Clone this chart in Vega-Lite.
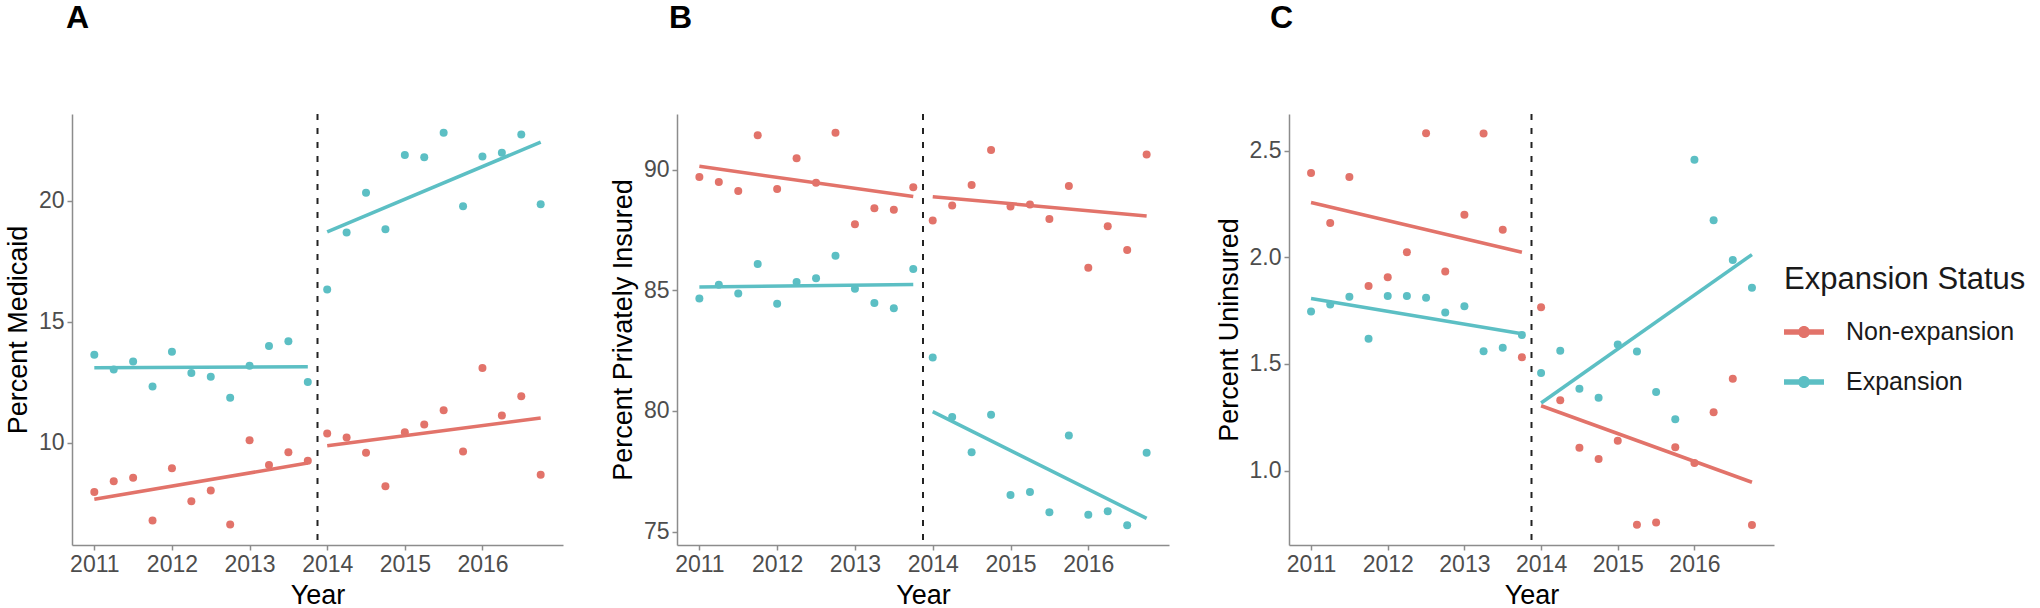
{
  "$schema": "https://vega.github.io/schema/vega-lite/v6.json",
  "padding": {"left": 4, "top": 2, "right": 0, "bottom": 0},
  "background": "white",
  "config": {
    "view": {"stroke": null},
    "font": "Liberation Sans",
    "axis": {
      "grid": false,
      "domainColor": "#8c8c8c",
      "domainWidth": 1.5,
      "tickColor": "#8c8c8c",
      "tickWidth": 1.5,
      "tickSize": 5,
      "labelFont": "Liberation Sans",
      "labelFontSize": 23,
      "labelColor": "#4d4d4d",
      "labelPadding": 3,
      "titleFont": "Liberation Sans",
      "titleFontSize": 27,
      "titleFontWeight": "normal",
      "titleColor": "#000000",
      "titlePadding": 6
    },
    "title": {
      "font": "Liberation Sans",
      "fontSize": 32,
      "fontWeight": "bold",
      "color": "#000000",
      "anchor": "start",
      "frame": "group",
      "offset": 78
    },
    "legend": {
      "titleFont": "Liberation Sans",
      "titleFontSize": 31,
      "titleFontWeight": "normal",
      "titleColor": "#1a1a1a",
      "titleLimit": 0,
      "labelFont": "Liberation Sans",
      "labelFontSize": 25,
      "labelColor": "#1a1a1a",
      "labelLimit": 0,
      "labelOffset": 22,
      "symbolType": "M-1,-0.14L1,-0.14L1,0.14L-1,0.14Z M-0.3,0A0.3,0.3,0,1,1,0.3,0A0.3,0.3,0,1,1,-0.3,0Z",
      "symbolSize": 1600,
      "symbolStrokeWidth": 0,
      "rowPadding": 17,
      "titlePadding": 16
    }
  },
  "datasets": {
    "medicaid": [
      {"year": 2011, "status": "Expansion", "period": "pre", "value": 13.63},
      {"year": 2011.25, "status": "Expansion", "period": "pre", "value": 13.02},
      {"year": 2011.5, "status": "Expansion", "period": "pre", "value": 13.36},
      {"year": 2011.75, "status": "Expansion", "period": "pre", "value": 12.32},
      {"year": 2012, "status": "Expansion", "period": "pre", "value": 13.76},
      {"year": 2012.25, "status": "Expansion", "period": "pre", "value": 12.88},
      {"year": 2012.5, "status": "Expansion", "period": "pre", "value": 12.72},
      {"year": 2012.75, "status": "Expansion", "period": "pre", "value": 11.86},
      {"year": 2013, "status": "Expansion", "period": "pre", "value": 13.18},
      {"year": 2013.25, "status": "Expansion", "period": "pre", "value": 14.0},
      {"year": 2013.5, "status": "Expansion", "period": "pre", "value": 14.19},
      {"year": 2013.75, "status": "Expansion", "period": "pre", "value": 12.51},
      {"year": 2014, "status": "Expansion", "period": "post", "value": 16.34},
      {"year": 2014.25, "status": "Expansion", "period": "post", "value": 18.70},
      {"year": 2014.5, "status": "Expansion", "period": "post", "value": 20.34},
      {"year": 2014.75, "status": "Expansion", "period": "post", "value": 18.83},
      {"year": 2015, "status": "Expansion", "period": "post", "value": 21.90},
      {"year": 2015.25, "status": "Expansion", "period": "post", "value": 21.81},
      {"year": 2015.5, "status": "Expansion", "period": "post", "value": 22.82},
      {"year": 2015.75, "status": "Expansion", "period": "post", "value": 19.78},
      {"year": 2016, "status": "Expansion", "period": "post", "value": 21.84},
      {"year": 2016.25, "status": "Expansion", "period": "post", "value": 22.0},
      {"year": 2016.5, "status": "Expansion", "period": "post", "value": 22.75},
      {"year": 2016.75, "status": "Expansion", "period": "post", "value": 19.86},
      {"year": 2011, "status": "Non-expansion", "period": "pre", "value": 7.95},
      {"year": 2011.25, "status": "Non-expansion", "period": "pre", "value": 8.40},
      {"year": 2011.5, "status": "Non-expansion", "period": "pre", "value": 8.54},
      {"year": 2011.75, "status": "Non-expansion", "period": "pre", "value": 6.77},
      {"year": 2012, "status": "Non-expansion", "period": "pre", "value": 8.94},
      {"year": 2012.25, "status": "Non-expansion", "period": "pre", "value": 7.57},
      {"year": 2012.5, "status": "Non-expansion", "period": "pre", "value": 8.02},
      {"year": 2012.75, "status": "Non-expansion", "period": "pre", "value": 6.61},
      {"year": 2013, "status": "Non-expansion", "period": "pre", "value": 10.10},
      {"year": 2013.25, "status": "Non-expansion", "period": "pre", "value": 9.07},
      {"year": 2013.5, "status": "Non-expansion", "period": "pre", "value": 9.60},
      {"year": 2013.75, "status": "Non-expansion", "period": "pre", "value": 9.25},
      {"year": 2014, "status": "Non-expansion", "period": "post", "value": 10.38},
      {"year": 2014.25, "status": "Non-expansion", "period": "post", "value": 10.21},
      {"year": 2014.5, "status": "Non-expansion", "period": "post", "value": 9.58},
      {"year": 2014.75, "status": "Non-expansion", "period": "post", "value": 8.19},
      {"year": 2015, "status": "Non-expansion", "period": "post", "value": 10.43},
      {"year": 2015.25, "status": "Non-expansion", "period": "post", "value": 10.75},
      {"year": 2015.5, "status": "Non-expansion", "period": "post", "value": 11.34},
      {"year": 2015.75, "status": "Non-expansion", "period": "post", "value": 9.63},
      {"year": 2016, "status": "Non-expansion", "period": "post", "value": 13.09},
      {"year": 2016.25, "status": "Non-expansion", "period": "post", "value": 11.12},
      {"year": 2016.5, "status": "Non-expansion", "period": "post", "value": 11.92},
      {"year": 2016.75, "status": "Non-expansion", "period": "post", "value": 8.67}
    ],
    "private": [
      {"year": 2011, "status": "Non-expansion", "period": "pre", "value": 89.71},
      {"year": 2011.25, "status": "Non-expansion", "period": "pre", "value": 89.50},
      {"year": 2011.5, "status": "Non-expansion", "period": "pre", "value": 89.13},
      {"year": 2011.75, "status": "Non-expansion", "period": "pre", "value": 91.44},
      {"year": 2012, "status": "Non-expansion", "period": "pre", "value": 89.21},
      {"year": 2012.25, "status": "Non-expansion", "period": "pre", "value": 90.48},
      {"year": 2012.5, "status": "Non-expansion", "period": "pre", "value": 89.47},
      {"year": 2012.75, "status": "Non-expansion", "period": "pre", "value": 91.54},
      {"year": 2013, "status": "Non-expansion", "period": "pre", "value": 87.75},
      {"year": 2013.25, "status": "Non-expansion", "period": "pre", "value": 88.41},
      {"year": 2013.5, "status": "Non-expansion", "period": "pre", "value": 88.35},
      {"year": 2013.75, "status": "Non-expansion", "period": "pre", "value": 89.28},
      {"year": 2014, "status": "Non-expansion", "period": "post", "value": 87.90},
      {"year": 2014.25, "status": "Non-expansion", "period": "post", "value": 88.52},
      {"year": 2014.5, "status": "Non-expansion", "period": "post", "value": 89.37},
      {"year": 2014.75, "status": "Non-expansion", "period": "post", "value": 90.83},
      {"year": 2015, "status": "Non-expansion", "period": "post", "value": 88.48},
      {"year": 2015.25, "status": "Non-expansion", "period": "post", "value": 88.57},
      {"year": 2015.5, "status": "Non-expansion", "period": "post", "value": 87.96},
      {"year": 2015.75, "status": "Non-expansion", "period": "post", "value": 89.33},
      {"year": 2016, "status": "Non-expansion", "period": "post", "value": 85.94},
      {"year": 2016.25, "status": "Non-expansion", "period": "post", "value": 87.66},
      {"year": 2016.5, "status": "Non-expansion", "period": "post", "value": 86.68},
      {"year": 2016.75, "status": "Non-expansion", "period": "post", "value": 90.64},
      {"year": 2011, "status": "Expansion", "period": "pre", "value": 84.67},
      {"year": 2011.25, "status": "Expansion", "period": "pre", "value": 85.24},
      {"year": 2011.5, "status": "Expansion", "period": "pre", "value": 84.87},
      {"year": 2011.75, "status": "Expansion", "period": "pre", "value": 86.10},
      {"year": 2012, "status": "Expansion", "period": "pre", "value": 84.45},
      {"year": 2012.25, "status": "Expansion", "period": "pre", "value": 85.35},
      {"year": 2012.5, "status": "Expansion", "period": "pre", "value": 85.51},
      {"year": 2012.75, "status": "Expansion", "period": "pre", "value": 86.44},
      {"year": 2013, "status": "Expansion", "period": "pre", "value": 85.07},
      {"year": 2013.25, "status": "Expansion", "period": "pre", "value": 84.48},
      {"year": 2013.5, "status": "Expansion", "period": "pre", "value": 84.26},
      {"year": 2013.75, "status": "Expansion", "period": "pre", "value": 85.89},
      {"year": 2014, "status": "Expansion", "period": "post", "value": 82.22},
      {"year": 2014.25, "status": "Expansion", "period": "post", "value": 79.75},
      {"year": 2014.5, "status": "Expansion", "period": "post", "value": 78.29},
      {"year": 2014.75, "status": "Expansion", "period": "post", "value": 79.84},
      {"year": 2015, "status": "Expansion", "period": "post", "value": 76.51},
      {"year": 2015.25, "status": "Expansion", "period": "post", "value": 76.64},
      {"year": 2015.5, "status": "Expansion", "period": "post", "value": 75.80},
      {"year": 2015.75, "status": "Expansion", "period": "post", "value": 78.98},
      {"year": 2016, "status": "Expansion", "period": "post", "value": 75.69},
      {"year": 2016.25, "status": "Expansion", "period": "post", "value": 75.84},
      {"year": 2016.5, "status": "Expansion", "period": "post", "value": 75.26},
      {"year": 2016.75, "status": "Expansion", "period": "post", "value": 78.27}
    ],
    "uninsured": [
      {"year": 2011, "status": "Non-expansion", "period": "pre", "value": 2.395},
      {"year": 2011.25, "status": "Non-expansion", "period": "pre", "value": 2.161},
      {"year": 2011.5, "status": "Non-expansion", "period": "pre", "value": 2.377},
      {"year": 2011.75, "status": "Non-expansion", "period": "pre", "value": 1.866},
      {"year": 2012, "status": "Non-expansion", "period": "pre", "value": 1.906},
      {"year": 2012.25, "status": "Non-expansion", "period": "pre", "value": 2.024},
      {"year": 2012.5, "status": "Non-expansion", "period": "pre", "value": 2.582},
      {"year": 2012.75, "status": "Non-expansion", "period": "pre", "value": 1.933},
      {"year": 2013, "status": "Non-expansion", "period": "pre", "value": 2.199},
      {"year": 2013.25, "status": "Non-expansion", "period": "pre", "value": 2.580},
      {"year": 2013.5, "status": "Non-expansion", "period": "pre", "value": 2.129},
      {"year": 2013.75, "status": "Non-expansion", "period": "pre", "value": 1.531},
      {"year": 2014, "status": "Non-expansion", "period": "post", "value": 1.766},
      {"year": 2014.25, "status": "Non-expansion", "period": "post", "value": 1.330},
      {"year": 2014.5, "status": "Non-expansion", "period": "post", "value": 1.107},
      {"year": 2014.75, "status": "Non-expansion", "period": "post", "value": 1.054},
      {"year": 2015, "status": "Non-expansion", "period": "post", "value": 1.140},
      {"year": 2015.25, "status": "Non-expansion", "period": "post", "value": 0.746},
      {"year": 2015.5, "status": "Non-expansion", "period": "post", "value": 0.757},
      {"year": 2015.75, "status": "Non-expansion", "period": "post", "value": 1.109},
      {"year": 2016, "status": "Non-expansion", "period": "post", "value": 1.036},
      {"year": 2016.25, "status": "Non-expansion", "period": "post", "value": 1.274},
      {"year": 2016.5, "status": "Non-expansion", "period": "post", "value": 1.431},
      {"year": 2016.75, "status": "Non-expansion", "period": "post", "value": 0.745},
      {"year": 2011, "status": "Expansion", "period": "pre", "value": 1.746},
      {"year": 2011.25, "status": "Expansion", "period": "pre", "value": 1.779},
      {"year": 2011.5, "status": "Expansion", "period": "pre", "value": 1.815},
      {"year": 2011.75, "status": "Expansion", "period": "pre", "value": 1.618},
      {"year": 2012, "status": "Expansion", "period": "pre", "value": 1.819},
      {"year": 2012.25, "status": "Expansion", "period": "pre", "value": 1.819},
      {"year": 2012.5, "status": "Expansion", "period": "pre", "value": 1.810},
      {"year": 2012.75, "status": "Expansion", "period": "pre", "value": 1.741},
      {"year": 2013, "status": "Expansion", "period": "pre", "value": 1.770},
      {"year": 2013.25, "status": "Expansion", "period": "pre", "value": 1.560},
      {"year": 2013.5, "status": "Expansion", "period": "pre", "value": 1.576},
      {"year": 2013.75, "status": "Expansion", "period": "pre", "value": 1.636},
      {"year": 2014, "status": "Expansion", "period": "post", "value": 1.457},
      {"year": 2014.25, "status": "Expansion", "period": "post", "value": 1.562},
      {"year": 2014.5, "status": "Expansion", "period": "post", "value": 1.384},
      {"year": 2014.75, "status": "Expansion", "period": "post", "value": 1.342},
      {"year": 2015, "status": "Expansion", "period": "post", "value": 1.591},
      {"year": 2015.25, "status": "Expansion", "period": "post", "value": 1.558},
      {"year": 2015.5, "status": "Expansion", "period": "post", "value": 1.368},
      {"year": 2015.75, "status": "Expansion", "period": "post", "value": 1.241},
      {"year": 2016, "status": "Expansion", "period": "post", "value": 2.458},
      {"year": 2016.25, "status": "Expansion", "period": "post", "value": 2.174},
      {"year": 2016.5, "status": "Expansion", "period": "post", "value": 1.987},
      {"year": 2016.75, "status": "Expansion", "period": "post", "value": 1.857}
    ],
    "cutoff": [{"cutoff": 2013.875}]
  },
  "resolve": {"scale": {"color": "shared"}},
  "spacing": 46,
  "hconcat": [
    {
      "title": {"text": "A", "dx": -6},
      "width": 491,
      "height": 431,
      "data": {"name": "medicaid"},
      "layer": [
        {
          "mark": {"type": "point", "filled": true, "size": 64, "opacity": 1},
          "encoding": {
            "x": {"field": "year", "type": "quantitative", "title": "Year", "scale": {"domain": [2010.7125, 2017.0375], "nice": false, "zero": false}, "axis": {"values": [2011, 2012, 2013, 2014, 2015, 2016], "format": "d"}},
            "y": {"field": "value", "type": "quantitative", "title": "Percent Medicaid", "scale": {"domain": [5.76, 23.6], "nice": false, "zero": false}, "axis": {"values": [10, 15, 20]}},
            "color": {"field": "status", "type": "nominal", "title": "Expansion Status", "scale": {"domain": ["Non-expansion", "Expansion"], "range": ["#E2736A", "#5CBFC4"]}, "legend": {"orient": "none", "legendX": 1712, "legendY": 151}}
          }
        },
        {
          "transform": [{"regression": "value", "on": "year", "groupby": ["status", "period"]}],
          "mark": {"type": "line", "strokeWidth": 3.5},
          "encoding": {
            "x": {"field": "year", "type": "quantitative", "title": "Year"},
            "y": {"field": "value", "type": "quantitative", "title": "Percent Medicaid"},
            "color": {"field": "status", "type": "nominal", "title": "Expansion Status"},
            "detail": {"field": "period"}
          }
        },
        {
          "data": {"name": "cutoff"},
          "mark": {"type": "rule", "strokeDash": [6, 8], "strokeWidth": 2, "color": "#222222"},
          "encoding": {"x": {"field": "cutoff", "type": "quantitative", "title": "Year"}}
        }
      ]
    },
    {
      "title": {"text": "B", "dx": -8},
      "width": 492,
      "height": 431,
      "data": {"name": "private"},
      "layer": [
        {
          "mark": {"type": "point", "filled": true, "size": 64, "opacity": 1},
          "encoding": {
            "x": {"field": "year", "type": "quantitative", "title": "Year", "scale": {"domain": [2010.7125, 2017.0375], "nice": false, "zero": false}, "axis": {"values": [2011, 2012, 2013, 2014, 2015, 2016], "format": "d"}},
            "y": {"field": "value", "type": "quantitative", "title": "Percent Privately Insured", "scale": {"domain": [74.44, 92.32], "nice": false, "zero": false}, "axis": {"values": [75, 80, 85, 90]}},
            "color": {"field": "status", "type": "nominal", "title": "Expansion Status"}
          }
        },
        {
          "transform": [{"regression": "value", "on": "year", "groupby": ["status", "period"]}],
          "mark": {"type": "line", "strokeWidth": 3.5},
          "encoding": {
            "x": {"field": "year", "type": "quantitative", "title": "Year"},
            "y": {"field": "value", "type": "quantitative", "title": "Percent Privately Insured"},
            "color": {"field": "status", "type": "nominal", "title": "Expansion Status"},
            "detail": {"field": "period"}
          }
        },
        {
          "data": {"name": "cutoff"},
          "mark": {"type": "rule", "strokeDash": [6, 8], "strokeWidth": 2, "color": "#222222"},
          "encoding": {"x": {"field": "cutoff", "type": "quantitative", "title": "Year"}}
        }
      ]
    },
    {
      "title": {"text": "C", "dx": -19},
      "width": 485,
      "height": 431,
      "data": {"name": "uninsured"},
      "layer": [
        {
          "mark": {"type": "point", "filled": true, "size": 64, "opacity": 1},
          "encoding": {
            "x": {"field": "year", "type": "quantitative", "title": "Year", "scale": {"domain": [2010.7125, 2017.0375], "nice": false, "zero": false}, "axis": {"values": [2011, 2012, 2013, 2014, 2015, 2016], "format": "d"}},
            "y": {"field": "value", "type": "quantitative", "title": "Percent Uninsured", "scale": {"domain": [0.651, 2.672], "nice": false, "zero": false}, "axis": {"values": [1.0, 1.5, 2.0, 2.5], "format": ".1f"}},
            "color": {"field": "status", "type": "nominal", "title": "Expansion Status"}
          }
        },
        {
          "transform": [{"regression": "value", "on": "year", "groupby": ["status", "period"]}],
          "mark": {"type": "line", "strokeWidth": 3.5},
          "encoding": {
            "x": {"field": "year", "type": "quantitative", "title": "Year"},
            "y": {"field": "value", "type": "quantitative", "title": "Percent Uninsured"},
            "color": {"field": "status", "type": "nominal", "title": "Expansion Status"},
            "detail": {"field": "period"}
          }
        },
        {
          "data": {"name": "cutoff"},
          "mark": {"type": "rule", "strokeDash": [6, 8], "strokeWidth": 2, "color": "#222222"},
          "encoding": {"x": {"field": "cutoff", "type": "quantitative", "title": "Year"}}
        }
      ]
    }
  ]
}
